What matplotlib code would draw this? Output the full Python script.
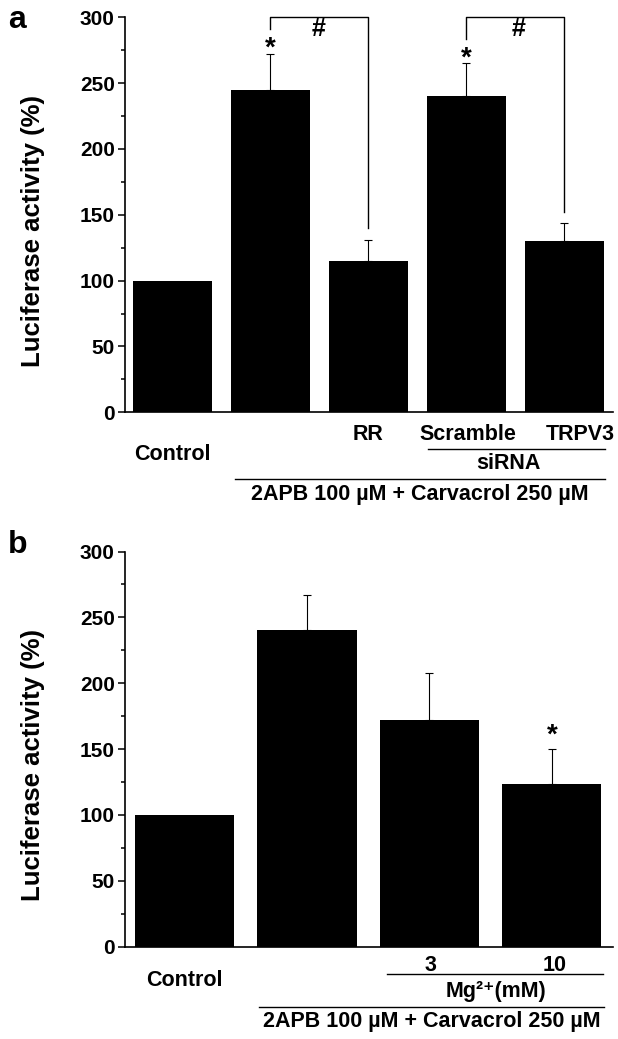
import numpy as np
import matplotlib
matplotlib.use("Agg")
import matplotlib.pyplot as plt
from matplotlib.ticker import MultipleLocator

plt.rcParams['font.family'] = ['Liberation Sans', 'DejaVu Sans']
plt.rcParams['font.weight'] = 'bold'

# 数据 (a)
a_values = [100, 245, 115, 240.5, 130]
a_errors = [0, 27, 16, 25, 13.5]
a_stars = {1: 276, 3: 268.5}

# 数据 (b)
b_values = [100, 240.5, 172.4, 123.8]
b_errors = [0, 26.3, 35.4, 26.1]
b_stars = {3: 160.5}

group_text = "2APB 100 \u00b5M + Carvacrol 250 \u00b5M"

LABEL_FS = 15.5
TICK_FS = 15


# 坐标轴样式
def style_axis(ax, xmax):
    ax.set_xlim(-0.49, xmax)
    ax.set_ylim(0, 300)
    ax.yaxis.set_major_locator(MultipleLocator(50))
    ax.yaxis.set_minor_locator(MultipleLocator(25))
    ax.spines['top'].set_visible(False)
    ax.spines['right'].set_visible(False)
    ax.spines['left'].set_linewidth(1.2)
    ax.spines['bottom'].set_linewidth(1.2)
    ax.tick_params(axis='y', which='major', direction='out', length=5, width=1.1,
                   labelsize=TICK_FS, pad=2)
    ax.tick_params(axis='y', which='minor', direction='out', length=3, width=1.1)
    ax.set_xticks([])
    for lab in ax.get_yticklabels():
        lab.set_fontweight('bold')
    ax.set_ylabel("Luciferase activity (%)", fontsize=18.5, fontweight='bold')
    ax.yaxis.set_label_coords(-0.162, 0.46)


# 画柱和误差线
def draw_bars(ax, values, errors, width):
    x = np.arange(len(values))
    ax.bar(x, values, width=width, color='black', zorder=2)
    err = np.array(errors, dtype=float)
    mask = err > 0
    ax.errorbar(x[mask], np.array(values)[mask], yerr=[np.zeros(mask.sum()), err[mask]],
                fmt='none', ecolor='black', elinewidth=0.8, capsize=3, capthick=0.8, zorder=1)
    return x


def line(ax, xs, ys):
    ax.plot(xs, ys, color='black', lw=1.0, clip_on=False)


def label(ax, x, y, s, fs=LABEL_FS):
    ax.text(x, y, s, ha='center', va='center', fontsize=fs, fontweight='bold')


fig = plt.figure(figsize=(6.18, 10.39), dpi=100)

# ---------- 图 a ----------
ax1 = fig.add_axes([0.2015, 0.6032, 0.7905, 0.3801])
draw_bars(ax1, a_values, a_errors, 0.805)
style_axis(ax1, 4.5)

for i, y in a_stars.items():
    label(ax1, i, y, "*", fs=20)

# 显著性括号
line(ax1, [1, 1, 2, 2], [290.8, 300, 300, 140])
line(ax1, [3, 3, 4, 4], [283.5, 300, 300, 152])
label(ax1, 1.49, 291, "#", fs=18)
label(ax1, 3.53, 291, "#", fs=18)

label(ax1, 0, -32.4, "Control")
label(ax1, 2, -17.2, "RR")
label(ax1, 3.02, -17.2, "Scramble")
label(ax1, 4.17, -17.2, "TRPV3")
line(ax1, [2.61, 4.42], [-28.1, -28.1])
label(ax1, 3.43, -38.7, "siRNA")
line(ax1, [0.64, 4.42], [-50.9, -50.9])
label(ax1, 2.53, -62.8, group_text)

fig.text(8 / 618, 1 - 28 / 1039, "a", ha='left', va='baseline', fontsize=23, fontweight='bold')

# ---------- 图 b ----------
ax2 = fig.add_axes([0.2015, 0.0888, 0.7905, 0.3804])
draw_bars(ax2, b_values, b_errors, 0.81)
style_axis(ax2, 3.5)

for i, y in b_stars.items():
    label(ax2, i, y, "*", fs=20)

label(ax2, 0, -25.3, "Control")
label(ax2, 2.01, -13.9, "3")
label(ax2, 3.02, -13.9, "10")
line(ax2, [1.65, 3.42], [-20.7, -20.7])
label(ax2, 2.54, -34.2, "Mg\u00b2\u207a(mM)")
line(ax2, [0.61, 3.43], [-45.5, -45.5])
label(ax2, 2.02, -57, group_text)

fig.text(8 / 618, 1 - 553 / 1039, "b", ha='left', va='baseline', fontsize=23, fontweight='bold')

plt.savefig("out.png", dpi=100)
